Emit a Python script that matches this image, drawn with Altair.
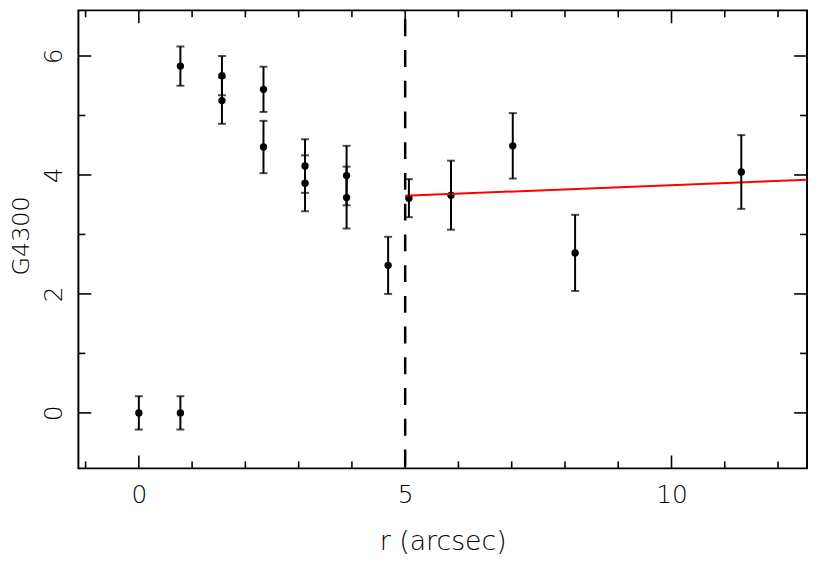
import altair as alt
import pandas as pd

# ---- data ----
r_arcsec = [0.0, 0.78, 0.78, 1.56, 1.56, 2.34, 2.34, 3.12, 3.12, 3.90, 3.90, 4.68, 5.07, 5.86, 7.02, 8.19, 11.31]
g4300 = [0.0, 0.0, 5.83, 5.67, 5.25, 5.44, 4.47, 4.15, 3.86, 3.99, 3.62, 2.48, 3.61, 3.66, 4.49, 2.69, 4.05]
g4300_err = [0.28, 0.28, 0.33, 0.33, 0.39, 0.38, 0.44, 0.45, 0.47, 0.50, 0.52, 0.48, 0.32, 0.58, 0.55, 0.64, 0.62]

fit_r = [5.0, 12.544]
fit_g = [3.65, 3.92]

cut_r = [5.0]

x_major = [0, 5, 10]
x_minor = [-1, 1, 2, 3, 4, 6, 7, 8, 9, 11, 12]
y_major = [0, 2, 4, 6]
y_minor = [1, 3, 5]

X_DOMAIN = [-1.135, 12.544]
Y_DOMAIN = [-0.933, 6.767]

W, H = 735, 462
FONT = "DejaVu Sans"
WEIGHT = 200

df = pd.DataFrame({"r": r_arcsec, "g": g4300, "e": g4300_err})
df["lo"] = df["g"] - df["e"]
df["hi"] = df["g"] + df["e"]

xs = alt.Scale(domain=X_DOMAIN, nice=False, zero=False)
ys = alt.Scale(domain=Y_DOMAIN, nice=False, zero=False)

x_axis = alt.Axis(
    values=x_major, title="r (arcsec)", ticks=False, tickSize=0, domain=False, grid=False,
    labelFont=FONT, labelFontSize=25, labelFontWeight=WEIGHT, labelColor="black",
    labelBaseline="alphabetic", labelPadding=34, labelFlush=False, format="d",
    titleFont=FONT, titleFontSize=27, titleFontWeight=WEIGHT, titleColor="black",
    titleBaseline="alphabetic", titleAlign="center", titleX=W / 2, titleY=82,
)
y_axis = alt.Axis(
    values=y_major, title="G4300", ticks=False, tickSize=0, domain=False, grid=False,
    labelFont=FONT, labelFontSize=25, labelFontWeight=WEIGHT, labelColor="black", labelAngle=270,
    labelAlign="center", labelBaseline="alphabetic", labelPadding=17, labelFlush=False, format="d",
    titleFont=FONT, titleFontSize=24, titleFontWeight=WEIGHT, titleColor="black",
    titleAngle=270, titleBaseline="alphabetic", titleAlign="center", titleX=-50, titleY=227,
)


def X(field):
    return alt.X(field, scale=xs, axis=x_axis, title="r (arcsec)")


def Y(field):
    return alt.Y(field, scale=ys, axis=y_axis, title="G4300")


base = alt.Chart(df)

points = base.mark_circle(size=55, color="black", opacity=1).encode(x=X("r:Q"), y=Y("g:Q"))
bars = base.mark_rule(color="black", strokeWidth=2).encode(x=X("r:Q"), y=Y("lo:Q"), y2="hi:Q")
cap_lo = base.mark_tick(color="black", orient="horizontal", size=8, thickness=2).encode(
    x=X("r:Q"), y=Y("lo:Q"))
cap_hi = base.mark_tick(color="black", orient="horizontal", size=8, thickness=2).encode(
    x=X("r:Q"), y=Y("hi:Q"))

cut = alt.Chart(pd.DataFrame({"r": cut_r})).mark_rule(
    color="black", strokeWidth=2.5, strokeDash=[17, 14], strokeDashOffset=22
).encode(x=X("r:Q"), y=alt.value(0), y2=alt.value(H))

fit = alt.Chart(pd.DataFrame({"r": fit_r, "g": fit_g})).mark_line(
    color="#ff0000", strokeWidth=2
).encode(x=X("r:Q"), y=Y("g:Q"))

tick_layers = []
for vals, length in ((x_major, 13), (x_minor, 7)):
    d = pd.DataFrame({"v": vals})
    tick_layers.append(alt.Chart(d).mark_rule(color="black", strokeWidth=1.6).encode(
        x=X("v:Q"), y=alt.value(H), y2=alt.value(H - length)))
    tick_layers.append(alt.Chart(d).mark_rule(color="black", strokeWidth=1.6).encode(
        x=X("v:Q"), y=alt.value(0), y2=alt.value(length)))
for vals, length in ((y_major, 13), (y_minor, 7)):
    d = pd.DataFrame({"v": vals})
    tick_layers.append(alt.Chart(d).mark_rule(color="black", strokeWidth=1.6).encode(
        y=Y("v:Q"), x=alt.value(0), x2=alt.value(length)))
    tick_layers.append(alt.Chart(d).mark_rule(color="black", strokeWidth=1.6).encode(
        y=Y("v:Q"), x=alt.value(W), x2=alt.value(W - length)))

chart = alt.layer(
    points, cut, fit, bars, cap_lo, cap_hi, *tick_layers
).properties(
    width=W, height=H,
    autosize=alt.AutoSizeParams(type="none"),
    padding={"left": 71, "top": 0, "right": 2, "bottom": 88},
    background="white",
).configure_view(
    stroke="black", strokeWidth=2
)

chart.save("out.html", embed_options={"renderer": "svg", "actions": False})
